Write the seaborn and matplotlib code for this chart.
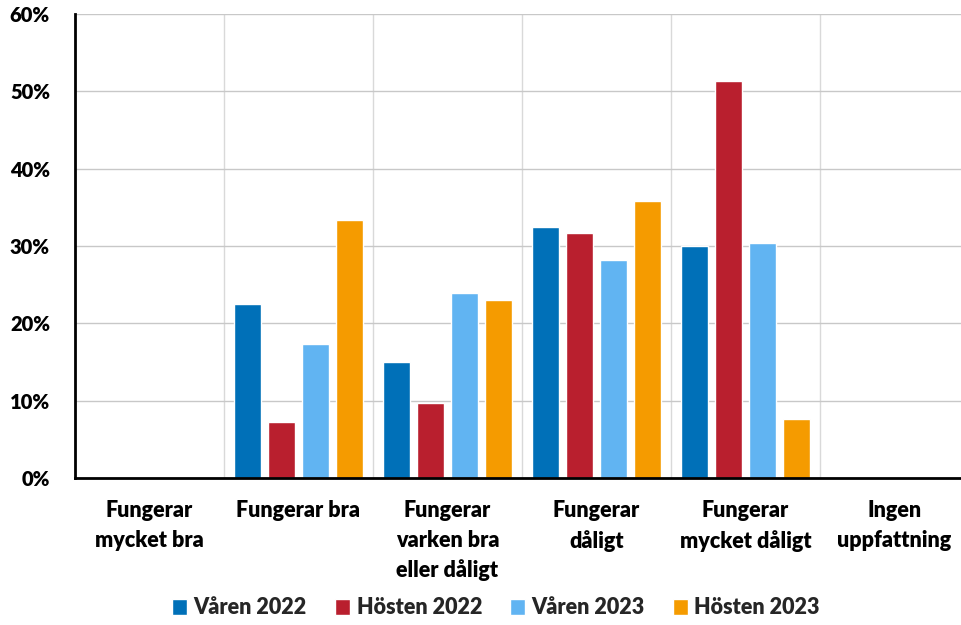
import matplotlib
matplotlib.use("Agg")
import matplotlib.pyplot as plt
import seaborn as sns
import pandas as pd
import numpy as np
from matplotlib.ticker import FuncFormatter, FixedLocator

categories = ["Fungerar\nmycket bra", "Fungerar bra", "Fungerar\nvarken bra\neller dåligt",
              "Fungerar\ndåligt", "Fungerar\nmycket dåligt", "Ingen\nuppfattning"]
series = ["Våren 2022", "Hösten 2022", "Våren 2023", "Hösten 2023"]
varen_2022 = [0.0, 22.5, 15.0, 32.5, 30.0, 0.0]
hosten_2022 = [0.0, 7.2, 9.7, 31.7, 51.3, 0.0]
varen_2023 = [0.0, 17.3, 23.9, 28.2, 30.4, 0.0]
hosten_2023 = [0.0, 33.4, 23.0, 35.8, 7.6, 0.0]
colors = ["#0070B8", "#B91F2E", "#61B4F2", "#F59B00"]

sns.set_theme(style="white")
plt.rcParams['font.family'] = ['Lato', 'DejaVu Sans']
W = "heavy"
plt.rcParams['font.weight'] = W

rows = []
for s, vals in zip(series, [varen_2022, hosten_2022, varen_2023, hosten_2023]):
    for c, v in zip(categories, vals):
        rows.append({"cat": c, "series": s, "val": v})
df = pd.DataFrame(rows)

fig = plt.figure(figsize=(9.61, 6.25), dpi=100)
ax = fig.add_axes([75/961, 1-478/625, 894/961, 464/625])
sns.barplot(data=df, x="cat", y="val", hue="series", palette=colors, width=0.915,
            ax=ax, saturation=1, legend=True, order=categories, hue_order=series)

# shrink bars to leave gaps
for p in ax.patches:
    w = p.get_width()
    if w > 0 and p.get_height() >= 0:
        nw = w * 0.8
        p.set_x(p.get_x() + (w - nw) / 2)
        p.set_width(nw)

ax.set_ylim(0, 60)
ax.set_xlim(-0.5, 5.5)
ax.set_yticks(np.arange(0, 61, 10))
ax.yaxis.set_major_formatter(FuncFormatter(lambda v, p: f"{int(v)}%"))
ax.set_xlabel("")
ax.set_ylabel("")

ax.xaxis.set_minor_locator(FixedLocator(np.arange(0.5, 5.5, 1.0)))
ax.grid(axis="y", which="major", color="#C8C8C8", linewidth=1.0)
ax.grid(axis="x", which="minor", color="#D9D9D9", linewidth=1.0)
ax.grid(axis="x", which="major", visible=False)
ax.set_axisbelow(True)

for side in ["top", "right"]:
    ax.spines[side].set_visible(False)
for side in ["left", "bottom"]:
    ax.spines[side].set_color("black")
    ax.spines[side].set_linewidth(2.0)

ax.tick_params(axis="y", which="major", direction="out", length=6, width=2, color="black",
               labelsize=14.5, pad=12)
ax.tick_params(axis="x", which="major", length=0, labelsize=15.5, pad=16)
ax.tick_params(axis="x", which="minor", direction="in", length=6, width=2, color="black")
for lbl in ax.get_yticklabels() + ax.get_xticklabels():
    lbl.set_fontweight(W)
    lbl.set_color("black")
for lbl in ax.get_xticklabels():
    lbl.set_linespacing(1.5)
    lbl.set_verticalalignment("top")

leg = ax.legend(loc="center", bbox_to_anchor=((496-75)/894, (478-608)/464), ncol=4, frameon=False,
                prop={"weight": W, "size": 15.5}, handlelength=0.7, handleheight=0.7,
                handletextpad=0.3, columnspacing=1.3)

fig.savefig("out.png", dpi=100)
